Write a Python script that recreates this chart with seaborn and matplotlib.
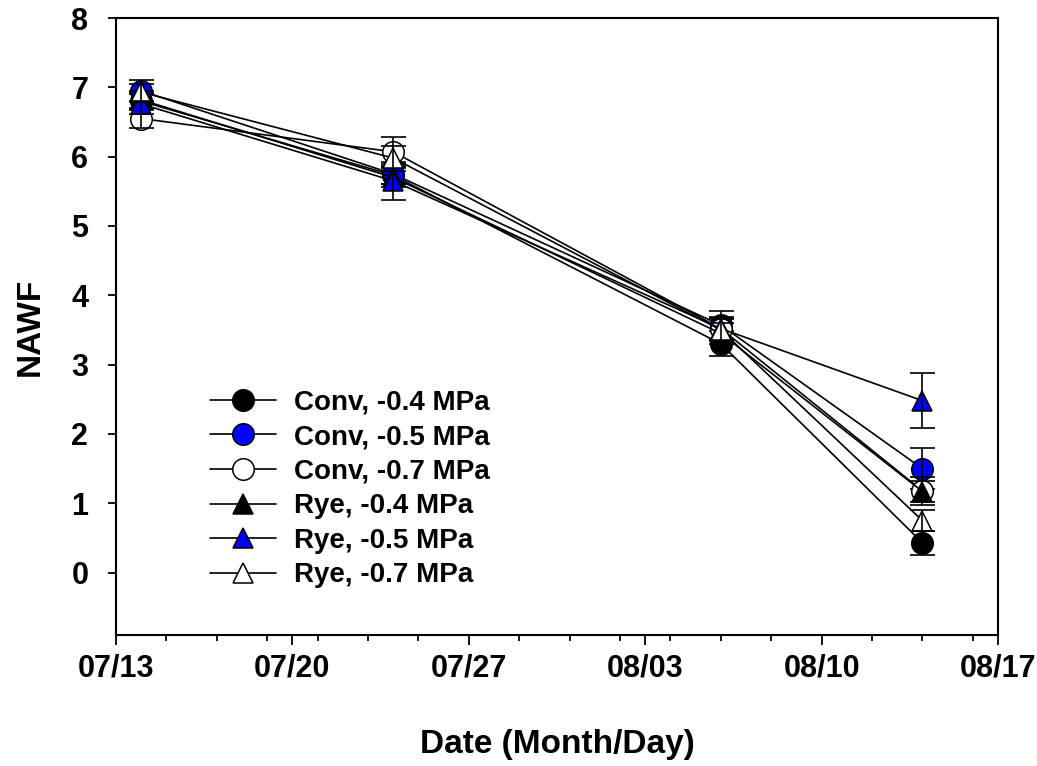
import matplotlib
matplotlib.use("Agg")
import matplotlib.pyplot as plt
import matplotlib.dates as mdates
import numpy as np
import pandas as pd
import seaborn as sns

# Sampling dates (month/day) and plant-available water fraction per treatment
dates = ["2010-07-14", "2010-07-24", "2010-08-06", "2010-08-14"]

series_names = ["Conv, -0.4 MPa", "Conv, -0.5 MPa", "Conv, -0.7 MPa",
                "Rye, -0.4 MPa", "Rye, -0.5 MPa", "Rye, -0.7 MPa"]

conv_04 = [6.80, 5.73, 3.30, 0.43]
conv_05 = [6.95, 5.75, 3.57, 1.50]
conv_07 = [6.55, 6.07, 3.52, 1.18]
rye_04 = [6.82, 5.70, 3.45, 1.17]
rye_05 = [6.76, 5.65, 3.52, 2.48]
rye_07 = [6.93, 5.98, 3.50, 0.75]

conv_04_se = [0.12, 0.12, 0.18, 0.17]
conv_05_se = [0.16, 0.15, 0.20, 0.30]
conv_07_se = [0.14, 0.21, 0.15, 0.20]
rye_04_se = [0.12, 0.14, 0.15, 0.15]
rye_05_se = [0.14, 0.27, 0.16, 0.40]
rye_07_se = [0.12, 0.18, 0.16, 0.15]

values = [conv_04, conv_05, conv_07, rye_04, rye_05, rye_07]
errors = [conv_04_se, conv_05_se, conv_07_se, rye_04_se, rye_05_se, rye_07_se]

markers = ["o", "o", "o", "^", "^", "^"]
fills = ["black", "#0000FF", "white", "black", "#0000FF", "white"]
sizes = [15.5, 15.5, 15.5, 14.5, 14.5, 14.5]

frames = []
for name, v, e in zip(series_names, values, errors):
    frames.append(pd.DataFrame({"date": pd.to_datetime(dates), "nawf": v,
                                "se": e, "treatment": name}))
df = pd.concat(frames, ignore_index=True)

sns.set_theme(style="ticks")
plt.rcParams["font.family"] = ["Liberation Sans", "DejaVu Sans"]
plt.rcParams["font.weight"] = "bold"
plt.rcParams["axes.labelweight"] = "bold"
plt.rcParams["text.color"] = "black"
plt.rcParams["axes.labelcolor"] = "black"
plt.rcParams["xtick.color"] = "black"
plt.rcParams["ytick.color"] = "black"

fig = plt.figure(figsize=(10.37, 7.66), dpi=100)
ax = fig.add_axes([0.1119, 0.171, 0.8505, 0.8055])

for i, name in enumerate(series_names):
    sub = df[df["treatment"] == name]
    sns.lineplot(data=sub, x="date", y="nawf", ax=ax, color="black",
                 linewidth=1.2, marker=markers[i], markersize=sizes[i],
                 markerfacecolor=fills[i], markeredgecolor="black",
                 markeredgewidth=1.1, label=name, errorbar=None,
                 zorder=3 + i)
    ax.errorbar(sub["date"], sub["nawf"], yerr=sub["se"], fmt="none",
                ecolor="black", elinewidth=1.2, capsize=9, capthick=1.2,
                zorder=3 + i)

start = pd.Timestamp("2010-07-13")
end = pd.Timestamp("2010-08-17")
ax.set_xlim(start, end)
ax.set_ylim(-0.9, 8)

ax.xaxis.set_major_locator(matplotlib.ticker.FixedLocator(
    mdates.date2num(pd.date_range(start, end, freq="7D"))))
ax.xaxis.set_minor_locator(matplotlib.ticker.FixedLocator(
    mdates.date2num(pd.date_range(start, end, freq="2D"))))
ax.xaxis.set_major_formatter(mdates.DateFormatter("%m/%d"))
ax.set_yticks(np.arange(0, 9, 1))

for s in ax.spines.values():
    s.set_linewidth(1.5)
    s.set_color("black")

ax.tick_params(axis="x", which="major", length=7, width=1.3, pad=6,
               labelsize=22, colors="black")
ax.tick_params(axis="x", which="minor", length=4.5, width=1.3)
ax.tick_params(axis="y", which="major", length=6, width=1.3, pad=14,
               labelsize=22, colors="black")

ax.set_xlabel("Date (Month/Day)", fontsize=24, fontweight="bold",
              labelpad=33, color="black")
ax.set_ylabel("NAWF", fontsize=24, fontweight="bold", labelpad=18,
              color="black")

leg = ax.legend(loc="upper left", bbox_to_anchor=(0.106, 0.398), frameon=False,
                fontsize=20, handlelength=2.4, handletextpad=0.65,
                labelspacing=0.31, borderpad=0, borderaxespad=0)
for t in leg.get_texts():
    t.set_fontweight("bold")
    t.set_color("black")

fig.savefig("out.png", dpi=100, facecolor="white")
